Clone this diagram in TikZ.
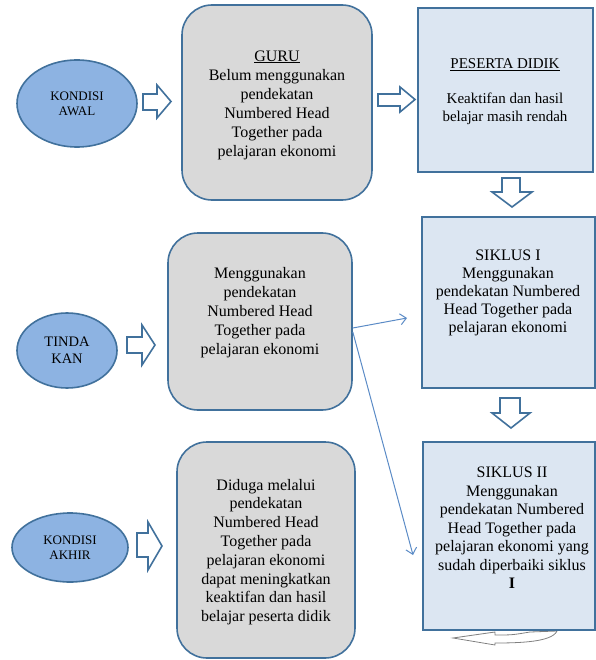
\documentclass[tikz,border=0pt]{standalone}
\usepackage{fontspec}
\setmainfont{Liberation Serif}
\usepackage{tikz}
\usetikzlibrary{shapes.geometric, arrows.meta}

\definecolor{edgeblue}{HTML}{41719C}
\definecolor{ovalblue}{HTML}{8DB3E2}
\definecolor{boxgray}{HTML}{D9D9D9}
\definecolor{boxblue}{HTML}{DCE6F2}
\definecolor{lineblue}{HTML}{5B8BC6}

\begin{document}
\begin{tikzpicture}[x=1pt, y=-1pt,
  oval/.style={ellipse, draw=edgeblue, fill=ovalblue, line width=1.6pt, inner sep=0pt, align=center},
  graybox/.style={rectangle, rounded corners=30pt, draw=edgeblue, fill=boxgray, line width=1.6pt},
  bluebox/.style={rectangle, draw=edgeblue, fill=boxblue, line width=1.6pt},
  txt/.style={align=center, inner sep=0pt, font=\fontsize{16}{19}\selectfont},
  fat/.style={draw=edgeblue, fill=white, line width=1.6pt, line join=miter},
  linkarrow/.style={draw=lineblue, line width=1pt, -{Straight Barb[length=6pt,width=11pt]}}]
\useasboundingbox (0,0) rectangle (595,660);

% curved arrow under the last cycle
\draw[gray, line width=0.8pt, fill=white] (453,638) -- (495,632) -- (495,635) .. controls (512,635) .. (530,632) -- (557,631) .. controls (552,642) and (520,643) .. (495,643) -- (495,645) -- cycle;

\node (awal) at (77,103.5) [oval, minimum width=120pt, minimum height=87pt, font=\fontsize{13}{15}\selectfont]{KONDISI\\AWAL};
\node (tindak) at (67,350.5) [oval, minimum width=100pt, minimum height=75pt, font=\fontsize{14.5}{17}\selectfont]{TINDA\\KAN};
\node (akhir) at (70,547.5) [oval, minimum width=116pt, minimum height=69pt, font=\fontsize{13}{15}\selectfont]{KONDISI\\AKHIR};

\node (guru) at (277,102.5) [graybox, minimum width=190pt, minimum height=195pt]{};
\node (aksi) at (260,321.5) [graybox, minimum width=184pt, minimum height=177pt]{};
\node (hasil) at (266,550) [graybox, minimum width=178pt, minimum height=216pt]{};
\node (peserta) at (505.5,90) [bluebox, minimum width=175pt, minimum height=164pt]{};
\node (siklus1) at (508.5,302.5) [bluebox, minimum width=173pt, minimum height=171pt]{};
\node (siklus2) at (509,536) [bluebox, minimum width=172pt, minimum height=188pt]{};

\node (gurutxt) at (277,105) [txt]{\underline{GURU}\\Belum menggunakan\\pendekatan\\Numbered Head\\Together pada\\pelajaran ekonomi};
\node (aksitxt) at (260,312.5) [txt]{Menggunakan\\pendekatan\\Numbered Head\\Together pada\\pelajaran ekonomi};
\node (hasiltxt) at (266,552) [txt, font=\fontsize{16}{18.8}\selectfont]{Diduga melalui\\pendekatan\\Numbered Head\\Together pada\\pelajaran ekonomi\\dapat meningkatkan\\keaktifan dan hasil\\belajar peserta didik};
\node (pesertatxt) at (505,91.5) [txt, font=\fontsize{15}{18}\selectfont]{\underline{PESERTA DIDIK}\\[17pt]Keaktifan dan hasil\\belajar masih rendah};
\node (siklus1txt) at (508,292.5) [txt, font=\fontsize{16}{18}\selectfont]{SIKLUS I\\Menggunakan\\pendekatan Numbered\\Head Together pada\\pelajaran ekonomi};
\node (siklus2txt) at (512,528) [txt, font=\fontsize{16}{18.5}\selectfont]{SIKLUS II\\Menggunakan\\pendekatan Numbered\\Head Together pada\\pelajaran ekonomi yang\\sudah diperbaiki siklus\\\textbf{I}};

% block arrows
\draw[fat] (143,94) -- (157,94) -- (157,85) -- (171,101.5) -- (157,118) -- (157,110) -- (143,110) -- cycle;
\draw[fat] (127,337) -- (142,337) -- (142,325) -- (155,345) -- (142,365) -- (142,353) -- (127,353) -- cycle;
\draw[fat] (137,533) -- (148,533) -- (148,522) -- (162,546) -- (148,570) -- (148,557) -- (137,557) -- cycle;
\draw[fat] (378,94) -- (400,94) -- (400,87) -- (415,99.5) -- (400,112) -- (400,106) -- (378,106) -- cycle;
\draw[fat] (502,178) -- (520,178) -- (520,192) -- (532,192) -- (512,207) -- (492,192) -- (502,192) -- cycle;
\draw[fat] (500,398) -- (520,398) -- (520,413) -- (530,413) -- (511,428) -- (492,413) -- (500,413) -- cycle;

% thin arrows
\coordinate (tip1) at (407,318);
\coordinate (tip2) at (413,555);
\draw[linkarrow] ([yshift=-6.5pt]aksi.east) -- (tip1);
\draw[linkarrow] ([yshift=-10.5pt]aksi.east) -- (tip2);
\end{tikzpicture}
\end{document}
